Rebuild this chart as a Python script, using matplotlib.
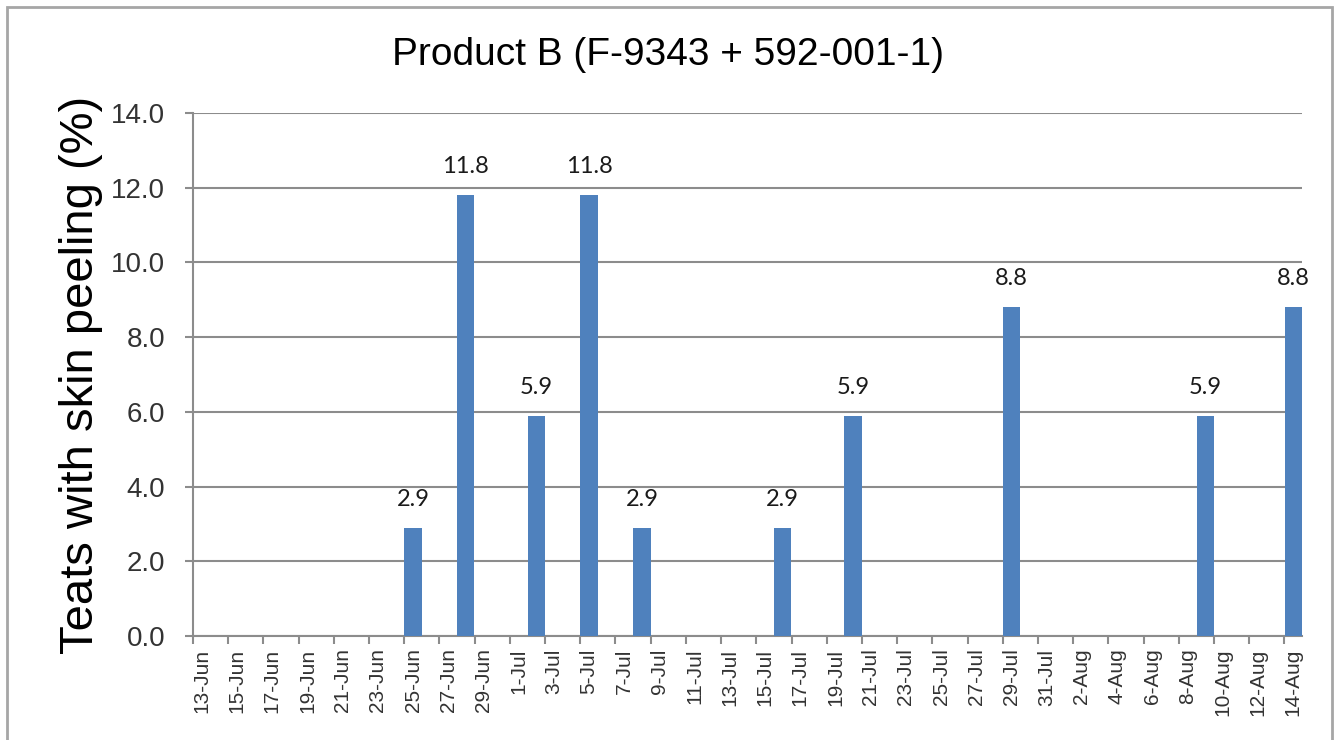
import pandas as pd
import matplotlib
matplotlib.use('Agg')
from matplotlib import pyplot as plt
from matplotlib.patches import Rectangle

# chart data
title = 'Product B (F-9343 + 592-001-1)'
y_label = 'Teats with skin peeling (%)'
start_date = '2013-06-13'
end_date = '2013-08-14'
bar_dates = ['2013-06-25', '2013-06-28', '2013-07-02', '2013-07-05', '2013-07-08',
             '2013-07-16', '2013-07-20', '2013-07-29', '2013-08-09', '2013-08-14']
bar_values = [2.9, 11.8, 5.9, 11.8, 2.9, 2.9, 5.9, 8.8, 5.9, 8.8]

days = pd.date_range(start_date, end_date, freq='D')
day_labels = [f'{d.day}-{d.strftime("%b")}' for d in days]
x_pos = [days.get_loc(pd.Timestamp(d)) for d in bar_dates]

plt.rcParams['font.family'] = ['Liberation Sans', 'DejaVu Sans']

fig = plt.figure(figsize=(13.35, 7.4), dpi=100)
ax = fig.add_axes([193 / 1335, 1 - 636 / 740, 1109 / 1335, 523 / 740])

# outer chart border
fig.patches.append(Rectangle((7 / 1335, -0.05), 1325 / 1335, 1 - 7 / 740 + 0.05,
                             transform=fig.transFigure, fill=False,
                             edgecolor='#a6a6a6', linewidth=2))

bars = ax.bar(x_pos, bar_values, width=0.98, color='#4f81bd', zorder=3)
ax.bar_label(bars, fmt='%.1f', padding=13, fontsize=17, family='Lato', color='#1a1a1a')

ax.set_xlim(-0.5, len(days) - 0.5)
ax.set_ylim(0, 14)
ax.set_yticks([i * 2.0 for i in range(8)])
ax.set_yticklabels([f'{i * 2.0:.1f}' for i in range(8)])
ax.yaxis.grid(True, color='#8c8c8c', linewidth=1.5, zorder=0)

# ticks at category boundaries, labels at every other day centre
ax.set_xticks([i - 0.5 for i in range(0, len(days), 2)])
ax.set_xticklabels([])
ax.set_xticks(list(range(0, len(days), 2)), minor=True)
ax.set_xticklabels(day_labels[::2], minor=True, rotation=90, fontsize=15, color='#333333')
ax.tick_params(axis='x', which='minor', length=0, pad=9)
ax.tick_params(axis='x', which='major', length=6, width=1.5, color='#8c8c8c')
ax.tick_params(axis='y', length=6, width=1.5, color='#8c8c8c', pad=14,
               labelsize=20, labelcolor='#333333')

for side in ['top', 'right']:
    ax.spines[side].set_visible(False)
for side in ['left', 'bottom']:
    ax.spines[side].set_color('#8c8c8c')
    ax.spines[side].set_linewidth(1.5)

ax.set_ylabel(y_label, fontsize=34, labelpad=6)
fig.text(0.5, 1 - 55 / 740, title, ha='center', va='center', fontsize=28)

plt.savefig('out.png', dpi=100)
